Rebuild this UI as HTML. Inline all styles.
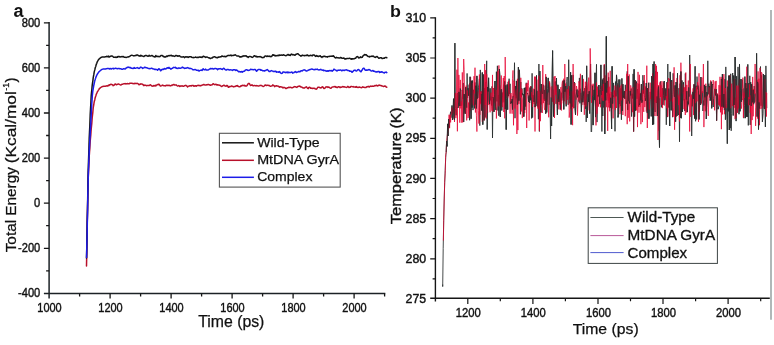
<!DOCTYPE html>
<html><head><meta charset="utf-8"><title>MD simulation: Total energy and temperature</title>
<style>
html,body{margin:0;padding:0;background:#fff;}
body{width:774px;height:345px;overflow:hidden;font-family:"Liberation Sans",sans-serif;}
svg{display:block;will-change:transform;font-family:"Liberation Sans",sans-serif;}
</style></head><body>
<svg width="774" height="345" viewBox="0 0 774 345">
<rect width="774" height="345" fill="#ffffff"/>
<g stroke="#1c2226" stroke-width="1.5" fill="none" stroke-linecap="butt">
<path d="M49.1 22 V298.6" />
<path d="M43.9 293.4 H385.3" />
</g>
<g stroke="#151515" stroke-width="1.3" fill="none">
<path d="M49.1 270.8h-3M49.1 248.3h-5.2M49.1 225.7h-3M49.1 203.2h-5.2M49.1 180.6h-3M49.1 158.1h-5.2M49.1 135.5h-3M49.1 113h-5.2M49.1 90.4h-3M49.1 67.9h-5.2M49.1 45.3h-3M49.1 22.8h-5.2M79.6 293.4v3M110.1 293.4v5.2M140.6 293.4v3M171.1 293.4v5.2M201.6 293.4v3M232.1 293.4v5.2M262.6 293.4v3M293.1 293.4v5.2M323.6 293.4v3M354.1 293.4v5.2M384.6 293.4v3" />
</g>
<g font-size="12.3" fill="#111" stroke="#111" stroke-width="0.4" text-anchor="end">
<text x="40.3" y="297.3" lengthAdjust="spacingAndGlyphs" textLength="22.3">-400</text>
<text x="40.3" y="252.2" lengthAdjust="spacingAndGlyphs" textLength="22.3">-200</text>
<text x="40.3" y="207.1" lengthAdjust="spacingAndGlyphs" textLength="6.2">0</text>
<text x="40.3" y="162" lengthAdjust="spacingAndGlyphs" textLength="18.6">200</text>
<text x="40.3" y="116.9" lengthAdjust="spacingAndGlyphs" textLength="18.6">400</text>
<text x="40.3" y="71.8" lengthAdjust="spacingAndGlyphs" textLength="18.6">600</text>
<text x="40.3" y="26.7" lengthAdjust="spacingAndGlyphs" textLength="18.6">800</text>
</g>
<g font-size="12.4" fill="#111" stroke="#111" stroke-width="0.4" text-anchor="middle">
<text x="49.5" y="311.7" lengthAdjust="spacingAndGlyphs" textLength="24.4">1000</text>
<text x="110.5" y="311.7" lengthAdjust="spacingAndGlyphs" textLength="24.4">1200</text>
<text x="171.5" y="311.7" lengthAdjust="spacingAndGlyphs" textLength="24.4">1400</text>
<text x="232.5" y="311.7" lengthAdjust="spacingAndGlyphs" textLength="24.4">1600</text>
<text x="293.5" y="311.7" lengthAdjust="spacingAndGlyphs" textLength="24.4">1800</text>
<text x="354.5" y="311.7" lengthAdjust="spacingAndGlyphs" textLength="24.4">2000</text>
</g>
<text x="198.2" y="327.0" font-size="16" fill="#111" stroke="#111" stroke-width="0.25" lengthAdjust="spacingAndGlyphs" textLength="66.2">Time (ps)</text>
<g font-size="15" fill="#111" stroke="#111" stroke-width="0.25">
<text transform="translate(16.2 252.3) rotate(-90)" lengthAdjust="spacingAndGlyphs" textLength="85.2">Total Energy</text>
<text transform="translate(16.2 163.2) rotate(-90)" lengthAdjust="spacingAndGlyphs" textLength="72">(Kcal/mol</text>
<text transform="translate(8.8 90.8) rotate(-90)" font-size="8.2" lengthAdjust="spacingAndGlyphs" textLength="7.9">-1</text>
<text transform="translate(16.2 82.6) rotate(-90)">)</text>
</g>
<text x="13.6" y="16.5" font-size="18" font-weight="bold" fill="#111">a</text>
<g fill="none" stroke-width="1.5" stroke-linejoin="round" stroke-linecap="round">
<path stroke="#b8102a" d="M86.5 266 L86.8 251.5 L87 237.7 L87.2 224.5 L87.5 211.5 L87.8 198.3 L88 186.8 L88.2 178.7 L88.5 172.5 L88.8 166.8 L89 161.6 L89.2 156.8 L89.5 152.4 L89.8 148.4 L90 144.7 L90.2 141.2 L90.5 138 L90.8 134.9 L91 131.9 L91.2 129 L91.5 126.1 L91.8 123.3 L92 120.5 L92.2 117.7 L92.5 115.1 L92.8 112.6 L93 110.3 L93.2 108.1 L93.5 106.2 L93.8 104.5 L94 103.1 L94.2 101.9 L94.5 100.8 L94.8 99.7 L95 98.7 L95.2 97.7 L95.5 96.8 L95.8 96 L96 95.2 L96.2 94.5 L96.5 93.8 L96.8 93.2 L97 92.7 L97.2 92.1 L97.5 91.6 L97.8 91.2 L98 90.8 L98.2 90.3 L98.5 90 L98.8 89.6 L99 89.2 L99.2 88.9 L99.5 88.6 L99.8 88.4 L100 88.1 L100.2 87.9 L100.5 87.7 L100.8 87.5 L101 87.3 L101.2 87.2 L101.5 87 L101.8 86.9 L102 86.7 L102.2 86.6 L102.5 86.5 L102.8 86.4 L103 86.4 L103.6 86.3 L104.2 86.2 L104.8 86.2 L105.4 86.2 L106 86.1 L106.6 85.8 L107.2 85.8 L107.8 86.1 L108.4 85.2 L109 85.5 L109.6 84.7 L110.2 84.8 L110.8 84.2 L111.4 84.5 L112 84.5 L112.6 84.9 L113.2 85.7 L113.8 85.4 L114.4 84.7 L115 84.2 L115.6 84 L116.2 84.7 L116.8 84.7 L117.4 84.3 L118 84.1 L118.6 83.9 L119.2 84.4 L119.8 84.6 L120.4 84.9 L121 85 L121.6 84.5 L122.2 84.2 L122.8 84.2 L123.4 83.9 L124 83.7 L124.6 83.7 L125.2 83.6 L125.8 84 L126.4 83.7 L127 83.7 L127.6 83.6 L128.2 83.7 L128.8 83.8 L129.4 83.7 L130 83.2 L130.6 83.2 L131.2 83.3 L131.8 83.2 L132.4 83.5 L133 83.4 L133.6 83.7 L134.2 83.8 L134.8 83.2 L135.4 83.5 L136 83.5 L136.6 83.4 L137.2 83.3 L137.8 83.6 L138.4 84 L139 84.7 L139.6 84.5 L140.2 84.3 L140.8 83.8 L141.4 84.1 L142 84.1 L142.6 84.3 L143.2 84.9 L143.8 85.6 L144.4 85.1 L145 85.3 L145.6 85.2 L146.2 85.5 L146.8 85.7 L147.4 85.4 L148 85.4 L148.6 85.6 L149.2 85.5 L149.8 85.2 L150.4 84.7 L151 85.3 L151.6 85.9 L152.2 86.2 L152.8 86.1 L153.4 85.5 L154 86 L154.6 85.8 L155.2 85.3 L155.8 85.9 L156.4 85.2 L157 84.9 L157.6 84.6 L158.2 84.7 L158.8 84.2 L159.4 84.6 L160 85.6 L160.6 86.1 L161.2 85.9 L161.8 85.6 L162.4 85.1 L163 85.3 L163.6 85.7 L164.2 85.7 L164.8 85.7 L165.4 85.9 L166 85.4 L166.6 85.3 L167.2 85.4 L167.8 85.3 L168.4 85.4 L169 85.3 L169.6 85.5 L170.2 85.9 L170.8 85.6 L171.4 85.3 L172 85.4 L172.6 84.9 L173.2 84.8 L173.8 84.4 L174.4 84.9 L175 85 L175.6 85 L176.2 84.9 L176.8 85.5 L177.4 86 L178 86 L178.6 85.6 L179.2 85.9 L179.8 86.5 L180.4 85.9 L181 86.2 L181.6 85.9 L182.2 85.8 L182.8 86.2 L183.4 86.2 L184 86 L184.6 85.7 L185.2 85.6 L185.8 85.3 L186.4 85.7 L187 86.3 L187.6 86.9 L188.2 86.3 L188.8 86.1 L189.4 85.8 L190 85.9 L190.6 85.7 L191.2 86.1 L191.8 85.5 L192.4 85.4 L193 85.4 L193.6 86 L194.2 86.3 L194.8 85.7 L195.4 85.7 L196 86.2 L196.6 86 L197.2 85.5 L197.8 85.6 L198.4 85.3 L199 85.4 L199.6 85.4 L200.2 85.9 L200.8 85.5 L201.4 85.6 L202 85.1 L202.6 84.9 L203.2 84.8 L203.8 84.4 L204.4 84.9 L205 85.1 L205.6 85 L206.2 85 L206.8 84.7 L207.4 84.8 L208 84.4 L208.6 84.5 L209.2 84.8 L209.8 85 L210.4 85.2 L211 85 L211.6 84.9 L212.2 84.7 L212.8 83.9 L213.4 83.7 L214 84.3 L214.6 84.7 L215.2 84.4 L215.8 84.3 L216.4 84.5 L217 85.1 L217.6 84.8 L218.2 84.9 L218.8 85 L219.4 85.2 L220 85.2 L220.6 85.9 L221.2 86.2 L221.8 86.5 L222.4 86 L223 85.8 L223.6 85.2 L224.2 85.3 L224.8 85.9 L225.4 86.1 L226 86.2 L226.6 85.4 L227.2 85.5 L227.8 86.1 L228.4 87.3 L229 87.1 L229.6 86.6 L230.2 86.5 L230.8 86.6 L231.4 86 L232 86 L232.6 86.5 L233.2 86.6 L233.8 86.9 L234.4 86.5 L235 86.6 L235.6 86.2 L236.2 85.8 L236.8 86 L237.4 85.5 L238 86.3 L238.6 86.4 L239.2 86.8 L239.8 86.8 L240.4 86.3 L241 85.7 L241.6 86 L242.2 85.4 L242.8 85.3 L243.4 85.4 L244 85.7 L244.6 85.3 L245.2 86.1 L245.8 85.9 L246.4 86 L247 85.7 L247.6 84.6 L248.2 83.6 L248.8 83.5 L249.4 83.6 L250 84.6 L250.6 85.5 L251.2 85 L251.8 85.2 L252.4 84.9 L253 85.7 L253.6 85.8 L254.2 85.6 L254.8 85.6 L255.4 85.7 L256 85.9 L256.6 85.6 L257.2 85.7 L257.8 85.9 L258.4 85.9 L259 85.9 L259.6 85.7 L260.2 85.3 L260.8 85.6 L261.4 85.4 L262 85.8 L262.6 86.2 L263.2 86.5 L263.8 86.2 L264.4 85.8 L265 85.1 L265.6 84.9 L266.2 85.6 L266.8 85.4 L267.4 85.3 L268 85.3 L268.6 85.5 L269.2 85.4 L269.8 85.9 L270.4 86.3 L271 86.1 L271.6 85.9 L272.2 85.8 L272.8 84.9 L273.4 85.3 L274 85.7 L274.6 86.7 L275.2 85.9 L275.8 86 L276.4 85.8 L277 86 L277.6 86 L278.2 86.4 L278.8 86.3 L279.4 87.2 L280 87.1 L280.6 86.7 L281.2 86.9 L281.8 87 L282.4 87.3 L283 87.9 L283.6 87.4 L284.2 87.4 L284.8 87.7 L285.4 88.1 L286 88.6 L286.6 88.3 L287.2 87.8 L287.8 87.8 L288.4 87.5 L289 87.2 L289.6 87.5 L290.2 87.4 L290.8 87.2 L291.4 87.8 L292 87.8 L292.6 87.7 L293.2 87.3 L293.8 87 L294.4 86.6 L295 86.8 L295.6 86.8 L296.2 87.2 L296.8 87.4 L297.4 86.7 L298 86.5 L298.6 86.3 L299.2 86.3 L299.8 86 L300.4 86.8 L301 86.9 L301.6 87 L302.2 87.3 L302.8 87.8 L303.4 88 L304 87.9 L304.6 88 L305.2 87.4 L305.8 87.1 L306.4 86.8 L307 87.6 L307.6 88.4 L308.2 88.7 L308.8 87.4 L309.4 87.3 L310 87.5 L310.6 88.2 L311.2 88.1 L311.8 88.3 L312.4 88.5 L313 88.3 L313.6 88.3 L314.2 88.4 L314.8 88.3 L315.4 88.8 L316 89.2 L316.6 89 L317.2 88.2 L317.8 87.3 L318.4 87.2 L319 87.3 L319.6 87.5 L320.2 87.9 L320.8 87.8 L321.4 87.7 L322 86.9 L322.6 86.8 L323.2 87.3 L323.8 88.5 L324.4 88.4 L325 88.1 L325.6 87.1 L326.2 87.1 L326.8 86.8 L327.4 86.9 L328 87.4 L328.6 87.1 L329.2 87.2 L329.8 87.8 L330.4 88.2 L331 88.2 L331.6 87.5 L332.2 87 L332.8 87.1 L333.4 86.9 L334 86.6 L334.6 86.7 L335.2 86.6 L335.8 87.2 L336.4 87.1 L337 87.6 L337.6 87.5 L338.2 86.8 L338.8 86.7 L339.4 86.9 L340 87.6 L340.6 87.1 L341.2 87.3 L341.8 87.1 L342.4 86.7 L343 86.5 L343.6 86.9 L344.2 86.8 L344.8 86.9 L345.4 87.1 L346 87.3 L346.6 87.4 L347.2 87.1 L347.8 86.4 L348.4 86.8 L349 87.5 L349.6 87.3 L350.2 87.3 L350.8 86.5 L351.4 86.5 L352 86.6 L352.6 86.8 L353.2 86.6 L353.8 87.1 L354.4 87.1 L355 87.1 L355.6 87.2 L356.2 86.5 L356.8 87.3 L357.4 87.2 L358 87.6 L358.6 87.3 L359.2 87 L359.8 87.2 L360.4 87.4 L361 87.5 L361.6 87.7 L362.2 87.3 L362.8 86.7 L363.4 87.3 L364 87.3 L364.6 87.4 L365.2 87.5 L365.8 87.6 L366.4 87.1 L367 86.7 L367.6 86.6 L368.2 86.8 L368.8 86.3 L369.4 87 L370 86.5 L370.6 86.1 L371.2 86.4 L371.8 86.2 L372.4 86.1 L373 86.3 L373.6 86.3 L374.2 86 L374.8 85.6 L375.4 85.7 L376 85.5 L376.6 85.3 L377.2 85.8 L377.8 85.9 L378.4 85.4 L379 85.1 L379.6 85.2 L380.2 85.5 L380.8 85.5 L381.4 85.7 L382 86.1 L382.6 86.1 L383.2 86.4 L383.8 86.4 L384.4 86 L385 86.3 L385.6 86.1 L386.2 87.1 L386.8 87.2" />
<path stroke="#141414" d="M86.5 258 L86.8 247 L87 235.1 L87.2 222.6 L87.5 208.5 L87.8 193 L88 180 L88.2 170.1 L88.5 161.1 L88.8 152.9 L89 145.4 L89.2 138.5 L89.5 132.2 L89.8 126.2 L90 120.4 L90.2 114.8 L90.5 109.4 L90.8 104.4 L91 99.8 L91.2 95.9 L91.5 92.6 L91.8 90 L92 87.6 L92.2 85.3 L92.5 83.2 L92.8 81.3 L93 79.5 L93.2 77.8 L93.5 76.2 L93.8 74.7 L94 73.3 L94.2 72.1 L94.5 70.9 L94.8 69.9 L95 68.9 L95.2 67.9 L95.5 67.1 L95.8 66.2 L96 65.4 L96.2 64.6 L96.5 63.9 L96.8 63.2 L97 62.6 L97.2 62 L97.5 61.4 L97.8 60.9 L98 60.5 L98.2 60.1 L98.5 59.7 L98.8 59.4 L99 59.2 L99.2 58.9 L99.5 58.7 L99.8 58.4 L100 58.2 L100.2 58 L100.5 57.8 L100.8 57.6 L101 57.5 L101.2 57.4 L101.5 57.2 L101.8 57.2 L102 57.1 L102.2 57.1 L102.5 57 L102.8 57 L103 56.9 L103.6 56.9 L104.2 56.9 L104.8 56.9 L105.4 56.8 L106 56.8 L106.6 56.3 L107.2 56.7 L107.8 56.5 L108.4 56.1 L109 57.2 L109.6 56.9 L110.2 56.2 L110.8 56.2 L111.4 56 L112 56.1 L112.6 56.2 L113.2 56.8 L113.8 57.3 L114.4 57.2 L115 57.4 L115.6 57 L116.2 57.5 L116.8 57 L117.4 57.2 L118 56.5 L118.6 56.4 L119.2 56.9 L119.8 56.5 L120.4 56.9 L121 56.8 L121.6 56.6 L122.2 56.7 L122.8 56.6 L123.4 56.6 L124 57.1 L124.6 57.3 L125.2 57.2 L125.8 57.4 L126.4 57.5 L127 57.1 L127.6 56.9 L128.2 57 L128.8 56.7 L129.4 56.5 L130 56.2 L130.6 55.7 L131.2 55.4 L131.8 55.2 L132.4 55.4 L133 55.6 L133.6 55.9 L134.2 55.7 L134.8 55.8 L135.4 55.4 L136 55.6 L136.6 55 L137.2 55.1 L137.8 55.1 L138.4 55.7 L139 55.7 L139.6 56 L140.2 56.2 L140.8 55.2 L141.4 55.8 L142 56 L142.6 56 L143.2 56.4 L143.8 56.6 L144.4 56 L145 55.8 L145.6 55.4 L146.2 55.5 L146.8 55.7 L147.4 56 L148 56.2 L148.6 56 L149.2 55.3 L149.8 56.1 L150.4 56.1 L151 56 L151.6 55.6 L152.2 55.5 L152.8 56 L153.4 56.6 L154 56.6 L154.6 57 L155.2 56.9 L155.8 55.5 L156.4 56.4 L157 56.4 L157.6 56.3 L158.2 56.7 L158.8 56.4 L159.4 56.7 L160 56.6 L160.6 55.8 L161.2 55.4 L161.8 55.5 L162.4 55.6 L163 56.4 L163.6 56.3 L164.2 57.1 L164.8 56.8 L165.4 57.1 L166 56.6 L166.6 56 L167.2 56.5 L167.8 55.9 L168.4 55.6 L169 56 L169.6 55.5 L170.2 55.4 L170.8 55.7 L171.4 55.3 L172 55.9 L172.6 56 L173.2 55.8 L173.8 56.1 L174.4 56.4 L175 56.1 L175.6 55.6 L176.2 55.5 L176.8 55.7 L177.4 55.8 L178 56.3 L178.6 55.9 L179.2 55.7 L179.8 56.1 L180.4 56.6 L181 57 L181.6 57.1 L182.2 57 L182.8 56.9 L183.4 56.7 L184 57.1 L184.6 57.6 L185.2 56.9 L185.8 56.8 L186.4 56.9 L187 56.8 L187.6 56.9 L188.2 57.5 L188.8 57.1 L189.4 56.7 L190 56.8 L190.6 56.8 L191.2 56.8 L191.8 57.3 L192.4 57.6 L193 57.3 L193.6 57.7 L194.2 57.6 L194.8 57.4 L195.4 57 L196 57.3 L196.6 57.4 L197.2 57.5 L197.8 57.3 L198.4 57.6 L199 56.9 L199.6 56.9 L200.2 57.3 L200.8 57 L201.4 57.2 L202 57.5 L202.6 56.8 L203.2 56.3 L203.8 56.3 L204.4 56.8 L205 56.7 L205.6 57.4 L206.2 57.2 L206.8 56.9 L207.4 57.1 L208 57.5 L208.6 57.9 L209.2 57.7 L209.8 58.3 L210.4 58.6 L211 58.1 L211.6 57.9 L212.2 58 L212.8 57.4 L213.4 56.9 L214 56.9 L214.6 56.7 L215.2 57 L215.8 57.5 L216.4 57.5 L217 57.7 L217.6 57.7 L218.2 57 L218.8 57.2 L219.4 57.1 L220 57 L220.6 56.7 L221.2 56.7 L221.8 56 L222.4 56.1 L223 56.4 L223.6 56.4 L224.2 56.4 L224.8 56.3 L225.4 56.8 L226 56.4 L226.6 56.4 L227.2 55.7 L227.8 55.6 L228.4 55.3 L229 55.6 L229.6 55.6 L230.2 55.5 L230.8 55.1 L231.4 55.8 L232 55.4 L232.6 55.5 L233.2 55.5 L233.8 55.2 L234.4 55.2 L235 54.8 L235.6 55 L236.2 55.5 L236.8 55.9 L237.4 56 L238 56 L238.6 56 L239.2 56.4 L239.8 57 L240.4 56.7 L241 57.1 L241.6 56.7 L242.2 56.3 L242.8 56.4 L243.4 55.9 L244 55.8 L244.6 55.9 L245.2 55.9 L245.8 55.8 L246.4 56 L247 56.7 L247.6 56.7 L248.2 57.4 L248.8 56.7 L249.4 56.6 L250 56.6 L250.6 56.6 L251.2 56.8 L251.8 57.2 L252.4 57.4 L253 57 L253.6 56.4 L254.2 55.7 L254.8 55.8 L255.4 56.2 L256 56.8 L256.6 56.3 L257.2 57 L257.8 56.7 L258.4 56.8 L259 56.8 L259.6 56.7 L260.2 56.5 L260.8 57 L261.4 57.1 L262 57.6 L262.6 57.7 L263.2 57.4 L263.8 57.5 L264.4 56.7 L265 56.2 L265.6 55.9 L266.2 56.2 L266.8 56.6 L267.4 56 L268 56.3 L268.6 56.3 L269.2 56.5 L269.8 56.1 L270.4 56.6 L271 56.8 L271.6 56.2 L272.2 55.8 L272.8 54.7 L273.4 55.2 L274 55.1 L274.6 55.7 L275.2 55.4 L275.8 56 L276.4 55.6 L277 55.8 L277.6 55.4 L278.2 55.3 L278.8 55.7 L279.4 55 L280 55.2 L280.6 55.3 L281.2 54.9 L281.8 55.2 L282.4 55.3 L283 54.9 L283.6 54.7 L284.2 55.3 L284.8 55.3 L285.4 55.6 L286 55.8 L286.6 55.2 L287.2 55.1 L287.8 54.6 L288.4 54.5 L289 55.2 L289.6 55 L290.2 55.5 L290.8 54.6 L291.4 54.1 L292 54.3 L292.6 54.8 L293.2 54.9 L293.8 54.6 L294.4 55 L295 55.3 L295.6 54.7 L296.2 54.2 L296.8 54 L297.4 53.7 L298 53.8 L298.6 54.5 L299.2 54.9 L299.8 55.4 L300.4 55.7 L301 56.2 L301.6 55.9 L302.2 55.1 L302.8 55.4 L303.4 55.5 L304 55.5 L304.6 55.7 L305.2 55.5 L305.8 55.4 L306.4 55.6 L307 55 L307.6 54.9 L308.2 55.9 L308.8 55.7 L309.4 55.8 L310 55.4 L310.6 55.3 L311.2 55.4 L311.8 55.7 L312.4 55.8 L313 54.8 L313.6 55.1 L314.2 54.9 L314.8 55.6 L315.4 56.4 L316 56.1 L316.6 55.5 L317.2 56.3 L317.8 56.1 L318.4 56.6 L319 56.2 L319.6 56 L320.2 55.7 L320.8 56.7 L321.4 56.8 L322 57.4 L322.6 56.6 L323.2 56.4 L323.8 56.7 L324.4 56.2 L325 56.2 L325.6 56.8 L326.2 56.7 L326.8 56.7 L327.4 57.1 L328 56.4 L328.6 56.6 L329.2 56.6 L329.8 56.2 L330.4 56.2 L331 56.3 L331.6 56.2 L332.2 56 L332.8 56.3 L333.4 55.8 L334 56.5 L334.6 57.2 L335.2 57.8 L335.8 57.9 L336.4 57.3 L337 57.7 L337.6 57.7 L338.2 57.8 L338.8 57.9 L339.4 58 L340 58 L340.6 57.4 L341.2 57.7 L341.8 58.2 L342.4 58.3 L343 58.3 L343.6 58 L344.2 58.2 L344.8 58.9 L345.4 58.8 L346 59 L346.6 58.5 L347.2 58.6 L347.8 58.6 L348.4 58.6 L349 58.4 L349.6 58.2 L350.2 58.6 L350.8 59 L351.4 59.2 L352 58.7 L352.6 59.1 L353.2 58.7 L353.8 58.9 L354.4 58.7 L355 58.3 L355.6 58.3 L356.2 57.3 L356.8 56.7 L357.4 56.6 L358 56.9 L358.6 57.9 L359.2 57.8 L359.8 57.7 L360.4 56.9 L361 57.3 L361.6 57.4 L362.2 57.3 L362.8 56.1 L363.4 55.7 L364 55.1 L364.6 54.5 L365.2 54.7 L365.8 55 L366.4 54.8 L367 55.7 L367.6 56.2 L368.2 56.5 L368.8 56.4 L369.4 56.9 L370 56.4 L370.6 56.4 L371.2 56.5 L371.8 56.1 L372.4 56.4 L373 56 L373.6 56.3 L374.2 56.8 L374.8 57.2 L375.4 57.4 L376 56.9 L376.6 56.6 L377.2 56.6 L377.8 57.2 L378.4 57.8 L379 58.3 L379.6 58.1 L380.2 57.7 L380.8 57.7 L381.4 57.8 L382 58.5 L382.6 58.5 L383.2 58.3 L383.8 58.1 L384.4 58.3 L385 57.6 L385.6 57.4 L386.2 57.5 L386.8 57.7" />
<path stroke="#1c1ce8" d="M86.6 257.5 L86.8 246.6 L87.1 235.2 L87.3 223.4 L87.6 210.4 L87.8 196.2 L88.1 183.8 L88.3 175.2 L88.6 167.9 L88.8 161.3 L89.1 155.4 L89.3 150 L89.6 145 L89.8 140.3 L90.1 135.7 L90.3 131.3 L90.6 126.8 L90.8 122.2 L91.1 117.4 L91.3 112.6 L91.6 108 L91.8 103.5 L92.1 99.5 L92.3 96 L92.6 93.2 L92.8 91.2 L93.1 89.5 L93.3 88 L93.6 86.5 L93.8 85.2 L94.1 84 L94.3 82.8 L94.6 81.7 L94.8 80.7 L95.1 79.8 L95.3 79 L95.6 78.2 L95.8 77.5 L96.1 76.9 L96.3 76.3 L96.6 75.7 L96.8 75.2 L97.1 74.7 L97.3 74.2 L97.6 73.8 L97.8 73.4 L98.1 73 L98.3 72.7 L98.6 72.3 L98.8 72 L99.1 71.7 L99.3 71.5 L99.6 71.2 L99.8 71 L100.1 70.8 L100.3 70.6 L100.6 70.4 L100.8 70.2 L101.1 70 L101.3 69.8 L101.6 69.6 L101.8 69.5 L102.1 69.4 L102.3 69.2 L102.6 69.2 L102.8 69.1 L103 69.1 L103.6 69.1 L104.2 69.1 L104.8 69.1 L105.4 69.1 L106 68.8 L106.6 68.7 L107.2 68.6 L107.8 68.6 L108.4 68.6 L109 68.7 L109.6 69 L110.2 68.4 L110.8 68.8 L111.4 69.1 L112 68.4 L112.6 68.6 L113.2 68.3 L113.8 68.9 L114.4 68.6 L115 68.3 L115.6 68.3 L116.2 68.5 L116.8 68.6 L117.4 68.8 L118 68.5 L118.6 68.6 L119.2 68.5 L119.8 68.8 L120.4 68.7 L121 68.8 L121.6 69.2 L122.2 69.3 L122.8 69.2 L123.4 68.8 L124 68.6 L124.6 69 L125.2 69 L125.8 68.4 L126.4 67.9 L127 67.5 L127.6 67.2 L128.2 67.5 L128.8 67.1 L129.4 67.5 L130 67.7 L130.6 67.5 L131.2 68.2 L131.8 68.3 L132.4 68.3 L133 68.6 L133.6 68.4 L134.2 67.5 L134.8 68.2 L135.4 68.3 L136 68.1 L136.6 67.9 L137.2 67.5 L137.8 67.9 L138.4 68.3 L139 68.4 L139.6 68.3 L140.2 67.4 L140.8 67.1 L141.4 67.4 L142 67.7 L142.6 68.4 L143.2 68.1 L143.8 67.8 L144.4 67.3 L145 67.3 L145.6 67.4 L146.2 67.8 L146.8 67.7 L147.4 68.1 L148 68.3 L148.6 68.6 L149.2 68.4 L149.8 68.8 L150.4 68.6 L151 68.3 L151.6 68.2 L152.2 68.5 L152.8 68.8 L153.4 68.9 L154 69 L154.6 69.4 L155.2 69.3 L155.8 69.5 L156.4 69.4 L157 69.4 L157.6 70.2 L158.2 69.4 L158.8 68.7 L159.4 69.1 L160 69.6 L160.6 70.8 L161.2 70.4 L161.8 69.5 L162.4 69.6 L163 69.1 L163.6 69.5 L164.2 68.7 L164.8 68.5 L165.4 69.1 L166 68.9 L166.6 68.4 L167.2 67.7 L167.8 68.1 L168.4 68.2 L169 67.3 L169.6 68.3 L170.2 68.3 L170.8 69.2 L171.4 68.8 L172 68.4 L172.6 68.2 L173.2 67.7 L173.8 67.3 L174.4 67.6 L175 67.4 L175.6 67.3 L176.2 68.4 L176.8 68.2 L177.4 68.4 L178 68.4 L178.6 67.9 L179.2 68 L179.8 68.2 L180.4 68.2 L181 68.1 L181.6 67.9 L182.2 67.1 L182.8 67.3 L183.4 67.8 L184 68 L184.6 68.5 L185.2 68.1 L185.8 68.3 L186.4 68 L187 67.9 L187.6 67.6 L188.2 68 L188.8 68 L189.4 68.6 L190 68.6 L190.6 68.3 L191.2 68.6 L191.8 68.9 L192.4 69.1 L193 69.9 L193.6 69.7 L194.2 69.7 L194.8 69.6 L195.4 69.5 L196 70 L196.6 70.2 L197.2 70.4 L197.8 70.3 L198.4 70.3 L199 71.1 L199.6 70.7 L200.2 70.4 L200.8 70.2 L201.4 70.1 L202 70.5 L202.6 69.5 L203.2 68.8 L203.8 69.5 L204.4 69.7 L205 69.9 L205.6 69.1 L206.2 69.9 L206.8 69.9 L207.4 70 L208 69.9 L208.6 69.8 L209.2 69.2 L209.8 69.1 L210.4 68.5 L211 68.5 L211.6 68.8 L212.2 68.7 L212.8 68.5 L213.4 69.1 L214 69 L214.6 68.6 L215.2 68.6 L215.8 68.6 L216.4 68.7 L217 69 L217.6 69.7 L218.2 68.8 L218.8 68.9 L219.4 68.8 L220 68.8 L220.6 68.6 L221.2 69 L221.8 69.3 L222.4 69.4 L223 68.8 L223.6 68.2 L224.2 68.6 L224.8 69.2 L225.4 69.8 L226 69.9 L226.6 69.9 L227.2 69.4 L227.8 69.6 L228.4 69.5 L229 70 L229.6 70 L230.2 69.7 L230.8 69.9 L231.4 69.9 L232 70 L232.6 70.4 L233.2 69.8 L233.8 69.7 L234.4 69.7 L235 69.9 L235.6 70.4 L236.2 70 L236.8 70.1 L237.4 70.7 L238 71.1 L238.6 71.8 L239.2 71.7 L239.8 71.5 L240.4 72 L241 71.7 L241.6 71.6 L242.2 72.2 L242.8 71.5 L243.4 71.5 L244 71.3 L244.6 71.1 L245.2 70.2 L245.8 70.1 L246.4 69.7 L247 69.7 L247.6 70.3 L248.2 70.4 L248.8 70.3 L249.4 70.2 L250 69.8 L250.6 69.2 L251.2 69.5 L251.8 69.4 L252.4 69.6 L253 69.7 L253.6 69.8 L254.2 69.5 L254.8 69.6 L255.4 69.6 L256 70.5 L256.6 71.3 L257.2 70.5 L257.8 69.9 L258.4 69.5 L259 69.4 L259.6 69.6 L260.2 69.6 L260.8 70.3 L261.4 70 L262 70.2 L262.6 70.8 L263.2 70.7 L263.8 70.8 L264.4 71.1 L265 70.6 L265.6 70.6 L266.2 70.1 L266.8 69.8 L267.4 69.6 L268 70.3 L268.6 70.9 L269.2 71.5 L269.8 71.6 L270.4 71.1 L271 70.8 L271.6 70.6 L272.2 70.9 L272.8 71.1 L273.4 71.6 L274 71.6 L274.6 71.3 L275.2 71.5 L275.8 71.2 L276.4 72.2 L277 72.1 L277.6 72.1 L278.2 72 L278.8 72.2 L279.4 71.6 L280 72 L280.6 73 L281.2 73.4 L281.8 73.3 L282.4 73 L283 72 L283.6 72.1 L284.2 72.1 L284.8 72.3 L285.4 72.7 L286 72.3 L286.6 72.6 L287.2 72 L287.8 72.7 L288.4 72.2 L289 72.7 L289.6 72.4 L290.2 72.4 L290.8 72.4 L291.4 72.2 L292 72 L292.6 73.2 L293.2 72.9 L293.8 72.7 L294.4 72.1 L295 72 L295.6 71.5 L296.2 72.4 L296.8 72.4 L297.4 72.1 L298 71.8 L298.6 71.5 L299.2 71.5 L299.8 71.8 L300.4 71.3 L301 70.8 L301.6 70.7 L302.2 71 L302.8 70.4 L303.4 70.1 L304 70.1 L304.6 69.8 L305.2 70.2 L305.8 70.8 L306.4 71 L307 70.9 L307.6 70.6 L308.2 70.2 L308.8 70 L309.4 69.8 L310 69.5 L310.6 69.4 L311.2 69.1 L311.8 68.9 L312.4 69.3 L313 69.3 L313.6 69.6 L314.2 69.8 L314.8 69.4 L315.4 69.3 L316 69.4 L316.6 69.3 L317.2 69.1 L317.8 69.6 L318.4 69.8 L319 69.9 L319.6 69.8 L320.2 69.8 L320.8 69.2 L321.4 69.8 L322 70.1 L322.6 70.2 L323.2 69.9 L323.8 70.7 L324.4 70.4 L325 70.5 L325.6 70.8 L326.2 71.2 L326.8 71 L327.4 70.8 L328 71.3 L328.6 70.8 L329.2 70.6 L329.8 70.7 L330.4 70.6 L331 70.8 L331.6 70.5 L332.2 71.1 L332.8 70.6 L333.4 70.2 L334 69.1 L334.6 69.5 L335.2 69.9 L335.8 70.2 L336.4 70.7 L337 71 L337.6 70.4 L338.2 70.1 L338.8 70.3 L339.4 70.2 L340 70.1 L340.6 69.9 L341.2 70.4 L341.8 70.8 L342.4 70.3 L343 70.1 L343.6 70.3 L344.2 70.6 L344.8 70.2 L345.4 69.9 L346 69.9 L346.6 69.8 L347.2 70.2 L347.8 70.6 L348.4 70.6 L349 70.7 L349.6 71.2 L350.2 71.1 L350.8 71.3 L351.4 71.3 L352 72.3 L352.6 71.9 L353.2 71.1 L353.8 70.5 L354.4 70.3 L355 70.1 L355.6 70.7 L356.2 70.9 L356.8 70.9 L357.4 70.1 L358 69.7 L358.6 69.6 L359.2 70 L359.8 70.8 L360.4 71.4 L361 71.8 L361.6 70.7 L362.2 70 L362.8 68.7 L363.4 68.3 L364 68.2 L364.6 69.1 L365.2 70.1 L365.8 70.3 L366.4 70 L367 70.2 L367.6 70 L368.2 69.9 L368.8 69.5 L369.4 69.7 L370 70 L370.6 70.6 L371.2 71 L371.8 71 L372.4 70.7 L373 70.4 L373.6 71.2 L374.2 71.2 L374.8 71.3 L375.4 71.8 L376 71.9 L376.6 71.8 L377.2 72 L377.8 71.5 L378.4 71.6 L379 71.5 L379.6 72.5 L380.2 71.9 L380.8 72.3 L381.4 71.8 L382 71.8 L382.6 72.2 L383.2 72.6 L383.8 72.8 L384.4 72.9 L385 72.3 L385.6 72.3 L386.2 72.1 L386.8 72.6" />
</g>
<rect x="219.4" y="133.3" width="120.8" height="53.8" fill="#fff" stroke="#555" stroke-width="1.1"/>
<g stroke-width="1.5" fill="none">
<path stroke="#141414" d="M222 142.8H253.9"/>
<path stroke="#b8102a" d="M222 160.3H253.9"/>
<path stroke="#1c1ce8" d="M222 177.3H253.9"/>
</g>
<g font-size="13.7" fill="#111" stroke="#111" stroke-width="0.25">
<text x="257.2" y="147.2" lengthAdjust="spacingAndGlyphs" textLength="62.4">Wild-Type</text>
<text x="257.2" y="163.9" lengthAdjust="spacingAndGlyphs" textLength="82">MtDNA GyrA</text>
<text x="257.2" y="181.1" lengthAdjust="spacingAndGlyphs" textLength="55.2">Complex</text>
</g>
<g stroke="#151515" stroke-width="1.4" fill="none">
<path d="M435.4 17.2 V301.6" />
<path d="M430.2 298.3 H769.8" />
</g>
<g stroke="#151515" stroke-width="1.2" fill="none">
<path d="M435.4 278.8h-2.8M435.4 258.8h-5.2M435.4 238.7h-2.8M435.4 218.6h-5.2M435.4 198.5h-2.8M435.4 178.4h-5.2M435.4 158.4h-2.8M435.4 138.3h-5.2M435.4 118.2h-2.8M435.4 98.2h-5.2M435.4 78.1h-2.8M435.4 58h-5.2M435.4 37.9h-2.8M435.4 17.9h-5.2M467.8 298.3v5.6M500.3 298.3v2.9M532.9 298.3v5.6M565.4 298.3v2.9M598 298.3v5.6M630.5 298.3v2.9M663 298.3v5.6M695.6 298.3v2.9M728.1 298.3v5.6M760.7 298.3v2.9" />
</g>
<g font-size="12.2" fill="#111" stroke="#111" stroke-width="0.4" text-anchor="end">
<text x="426.2" y="303" lengthAdjust="spacingAndGlyphs" textLength="20.6">275</text>
<text x="426.2" y="262.9" lengthAdjust="spacingAndGlyphs" textLength="20.6">280</text>
<text x="426.2" y="222.7" lengthAdjust="spacingAndGlyphs" textLength="20.6">285</text>
<text x="426.2" y="182.5" lengthAdjust="spacingAndGlyphs" textLength="20.6">290</text>
<text x="426.2" y="142.4" lengthAdjust="spacingAndGlyphs" textLength="20.6">295</text>
<text x="426.2" y="102.2" lengthAdjust="spacingAndGlyphs" textLength="20.6">300</text>
<text x="426.2" y="62.1" lengthAdjust="spacingAndGlyphs" textLength="20.6">305</text>
<text x="426.2" y="22" lengthAdjust="spacingAndGlyphs" textLength="20.6">310</text>
</g>
<g font-size="12.2" fill="#111" stroke="#111" stroke-width="0.4" text-anchor="middle">
<text x="468.2" y="316.6" lengthAdjust="spacingAndGlyphs" textLength="25">1200</text>
<text x="533.3" y="316.6" lengthAdjust="spacingAndGlyphs" textLength="25">1400</text>
<text x="598.4" y="316.6" lengthAdjust="spacingAndGlyphs" textLength="25">1600</text>
<text x="663.4" y="316.6" lengthAdjust="spacingAndGlyphs" textLength="25">1800</text>
<text x="728.5" y="316.6" lengthAdjust="spacingAndGlyphs" textLength="25">2000</text>
</g>
<text x="572.7" y="333.5" font-size="15.2" fill="#111" stroke="#111" stroke-width="0.25" lengthAdjust="spacingAndGlyphs" textLength="66">Time (ps)</text>
<g font-size="14.5" fill="#111" stroke="#111" stroke-width="0.4">
<text transform="translate(401.1 224.2) rotate(-90)" lengthAdjust="spacingAndGlyphs" textLength="92.2">Temperature</text>
<text transform="translate(401.1 128.4) rotate(-90)" lengthAdjust="spacingAndGlyphs" textLength="21">(K)</text>
</g>
<text x="389.9" y="16.7" font-size="15.6" font-weight="bold" fill="#111" lengthAdjust="spacingAndGlyphs" textLength="10.9">b</text>
<g fill="none" stroke-width="0.85" stroke-linejoin="miter" stroke-miterlimit="2">
<path stroke="#262b2b" d="M442.7 284.5 L442.7 286.6 L443.2 248.4 L443.7 220.7 L444.2 200 L444.7 182.7 L445.2 170.5 L445.7 157.6 L446.2 152.1 L446.6 141.1 L447.1 146.4 L447.6 123.9 L448.1 136 L448.6 119 L449.1 127.5 L449.6 120 L450.1 115.1 L450.6 111.7 L451 117.7 L451.5 111.5 L452 105.5 L452.5 120 L453 116.9 L453.5 98.7 L454 117.5 L454.5 120.1 L454.9 43.1 L455.4 108.4 L455.9 115.2 L456.4 115.1 L456.9 94.8 L457.4 93 L457.9 108 L458.4 106.6 L458.9 91.9 L459.3 94.3 L459.8 106 L460.3 88.6 L460.8 90.4 L461.3 105.5 L461.8 105.6 L462.3 90 L462.8 98.8 L463.2 83 L463.7 122 L464.2 94.1 L464.7 110.1 L465.2 113.7 L465.7 87.3 L466.2 95.1 L466.7 107.7 L467.1 73.4 L467.6 97.8 L468.1 88.1 L468.6 95.8 L469.1 84.6 L469.6 120.2 L470.1 76.8 L470.6 98.6 L471.1 118.7 L471.5 80.8 L472 107.6 L472.5 80.6 L473 110.1 L473.5 89.8 L474 95.2 L474.5 108.4 L475 82.4 L475.4 104.6 L475.9 85.7 L476.4 108.4 L476.9 75.9 L477.4 98.5 L477.9 97.5 L478.4 87.3 L478.9 84.1 L479.4 78.7 L479.8 125.6 L480.3 69.9 L480.8 103.2 L481.3 93.9 L481.8 110.6 L482.3 72.5 L482.8 124.6 L483.3 74.5 L483.7 89.9 L484.2 120.3 L484.7 88.1 L485.2 117.4 L485.7 82.3 L486.2 83.2 L486.7 60.8 L487.2 129.5 L487.6 87 L488.1 91.5 L488.6 77.8 L489.1 99.8 L489.6 104.1 L490.1 88.3 L490.6 100.3 L491.1 96.7 L491.6 105.5 L492 86.4 L492.5 138 L493 97 L493.5 98.7 L494 111.8 L494.5 94.7 L495 81 L495.5 106.2 L495.9 110 L496.4 71.7 L496.9 101.4 L497.4 65.8 L497.9 110.5 L498.4 95 L498.9 115.7 L499.4 69 L499.9 76 L500.3 117 L500.8 94.2 L501.3 89.3 L501.8 110.5 L502.3 92.5 L502.8 102.5 L503.3 90.4 L503.8 84.6 L504.2 101.6 L504.7 81.3 L505.2 109.1 L505.7 85.4 L506.2 129.6 L506.7 98.5 L507.2 84.5 L507.7 109.7 L508.1 81.8 L508.6 96.2 L509.1 78.7 L509.6 94.2 L510.1 83.8 L510.6 103.8 L511.1 101.5 L511.6 103.1 L512.1 99.1 L512.5 109.5 L513 96.6 L513.5 97.1 L514 92.4 L514.5 62.7 L515 118.2 L515.5 86 L516 98.2 L516.4 80.9 L516.9 96.2 L517.4 104.6 L517.9 101.4 L518.4 67.1 L518.9 100.7 L519.4 69.8 L519.9 81.4 L520.4 114.3 L520.8 82 L521.3 97.2 L521.8 88.3 L522.3 93 L522.8 95.1 L523.3 94.4 L523.8 116.7 L524.3 88 L524.7 110 L525.2 87.5 L525.7 106.6 L526.2 82.8 L526.7 92.1 L527.2 94.1 L527.7 93 L528.2 96.5 L528.6 101.8 L529.1 95.5 L529.6 103 L530.1 87.6 L530.6 100.2 L531.1 86.5 L531.6 118.4 L532.1 73.3 L532.6 117.6 L533 95.1 L533.5 99.3 L534 102 L534.5 89.4 L535 107.1 L535.5 104.7 L536 103 L536.5 75.5 L536.9 105.9 L537.4 106.6 L537.9 90.8 L538.4 119.2 L538.9 64 L539.4 131.5 L539.9 71.1 L540.4 101.5 L540.9 112.5 L541.3 84 L541.8 89.1 L542.3 93.5 L542.8 94 L543.3 84.7 L543.8 99.7 L544.3 89.9 L544.8 100.9 L545.2 85.5 L545.7 113.8 L546.2 76.9 L546.7 112.4 L547.2 102.3 L547.7 88.3 L548.2 77.9 L548.7 92.7 L549.1 104.7 L549.6 82.7 L550.1 108.8 L550.6 139 L551.1 97.3 L551.6 126 L552.1 78.7 L552.6 50.6 L553.1 94.2 L553.5 116.5 L554 105.9 L554.5 103.7 L555 81.5 L555.5 81.6 L556 103.8 L556.5 78 L557 108.7 L557.4 115 L557.9 84.8 L558.4 96 L558.9 101.8 L559.4 89.3 L559.9 92 L560.4 109.5 L560.9 108.8 L561.4 92.7 L561.8 100.6 L562.3 98.5 L562.8 82 L563.3 80.6 L563.8 109.4 L564.3 80.3 L564.8 91.7 L565.3 89 L565.7 86 L566.2 106.3 L566.7 81.3 L567.2 77 L567.7 95.2 L568.2 104.8 L568.7 59.7 L569.2 85.7 L569.7 96.5 L570.1 103.4 L570.6 72.3 L571.1 124.5 L571.6 75.4 L572.1 106.7 L572.6 106.5 L573.1 74.9 L573.6 102.2 L574 108.4 L574.5 82.1 L575 108.8 L575.5 114.8 L576 95.9 L576.5 92.8 L577 89.5 L577.5 97.3 L577.9 95 L578.4 90.6 L578.9 101.7 L579.4 77.9 L579.9 103.3 L580.4 88.7 L580.9 92.8 L581.4 111.7 L581.9 97.7 L582.3 75.3 L582.8 102.2 L583.3 96.8 L583.8 91.3 L584.3 104.9 L584.8 88.1 L585.3 108.9 L585.8 86.1 L586.2 121.9 L586.7 65.8 L587.2 118 L587.7 106 L588.2 94.2 L588.7 102 L589.2 91.2 L589.7 113.6 L590.2 82.2 L590.6 64 L591.1 131.5 L591.6 132 L592.1 111.7 L592.6 85.8 L593.1 125.1 L593.6 96.8 L594.1 89.8 L594.5 99.8 L595 72.8 L595.5 117.1 L596 83.4 L596.5 64.3 L597 122.1 L597.5 95 L598 97.2 L598.4 96.2 L598.9 85 L599.4 100 L599.9 104.1 L600.4 89.4 L600.9 64.9 L601.4 95.1 L601.9 131.5 L602.4 79.5 L602.8 116 L603.3 78.1 L603.8 107.5 L604.3 65.1 L604.8 134 L605.3 82.8 L605.8 100.4 L606.3 36.3 L606.7 92.5 L607.2 81 L607.7 96.7 L608.2 100.5 L608.7 77.2 L609.2 103.1 L609.7 93.7 L610.2 107.8 L610.7 97.8 L611.1 103.7 L611.6 129 L612.1 66.3 L612.6 103.6 L613.1 95.2 L613.6 82.9 L614.1 97 L614.6 90.8 L615 131.3 L615.5 81.6 L616 96.4 L616.5 74.9 L617 82.6 L617.5 84.2 L618 117.4 L618.5 114.4 L618.9 79.5 L619.4 104.1 L619.9 79.5 L620.4 106.1 L620.9 88.3 L621.4 119.8 L621.9 78.4 L622.4 110.8 L622.9 84.2 L623.3 96.1 L623.8 97.7 L624.3 91.2 L624.8 98.8 L625.3 84.8 L625.8 95.2 L626.3 103.8 L626.8 100 L627.2 71.3 L627.7 109.9 L628.2 76.2 L628.7 100.9 L629.2 101.2 L629.7 103.5 L630.2 90.9 L630.7 95.4 L631.2 88.5 L631.6 116.6 L632.1 93.7 L632.6 98.6 L633.1 73.9 L633.6 131.5 L634.1 69.3 L634.6 116.6 L635.1 80.2 L635.5 110.6 L636 84.1 L636.5 81.6 L637 98.8 L637.5 89.1 L638 94.7 L638.5 106.7 L639 83.7 L639.4 105.1 L639.9 102.3 L640.4 93.6 L640.9 100.4 L641.4 84.1 L641.9 102.7 L642.4 99.8 L642.9 75.2 L643.4 93.6 L643.8 80.7 L644.3 95.9 L644.8 97.7 L645.3 100.9 L645.8 97.5 L646.3 83 L646.8 101.2 L647.3 113.1 L647.7 88.2 L648.2 118.7 L648.7 82.7 L649.2 118.7 L649.7 101.5 L650.2 91.9 L650.7 99.3 L651.2 116.4 L651.7 76.2 L652.1 77.7 L652.6 124.8 L653.1 64 L653.6 124.3 L654.1 61.5 L654.6 102.3 L655.1 112 L655.6 71.1 L656 102.2 L656.5 103 L657 96.4 L657.5 115.9 L658 90.8 L658.5 86.5 L659 123.5 L659.5 147.5 L659.9 98.2 L660.4 81.4 L660.9 85.8 L661.4 107.3 L661.9 100.3 L662.4 88.2 L662.9 104.9 L663.4 95.8 L663.9 82.1 L664.3 81 L664.8 100.2 L665.3 96.6 L665.8 88.4 L666.3 124.8 L666.8 82.1 L667.3 117.1 L667.8 64 L668.2 107.6 L668.7 88.6 L669.2 102.5 L669.7 126 L670.2 71.9 L670.7 86.9 L671.2 110.3 L671.7 80.1 L672.2 94.7 L672.6 117.2 L673.1 73.3 L673.6 89.8 L674.1 96.3 L674.6 96.9 L675.1 85.4 L675.6 121.7 L676.1 82.1 L676.5 89.3 L677 115.9 L677.5 73.2 L678 113.1 L678.5 115 L679 88.1 L679.5 141.8 L680 83.6 L680.4 117.8 L680.9 71.5 L681.4 118.2 L681.9 80.5 L682.4 111.8 L682.9 92.6 L683.4 82.3 L683.9 100.2 L684.4 99.3 L684.8 111 L685.3 73.5 L685.8 97.9 L686.3 99.6 L686.8 91.2 L687.3 112.1 L687.8 101.5 L688.3 104.3 L688.7 87.4 L689.2 96.6 L689.7 55 L690.2 81.7 L690.7 93.1 L691.2 95.4 L691.7 136 L692.2 106.5 L692.7 92.4 L693.1 91.8 L693.6 98.8 L694.1 84.4 L694.6 118.5 L695.1 66.3 L695.6 121.3 L696.1 85.7 L696.6 119.4 L697 76.6 L697.5 89.2 L698 85.6 L698.5 90.5 L699 119.4 L699.5 94.8 L700 102.9 L700.5 105 L700.9 77 L701.4 103.3 L701.9 92.9 L702.4 91.4 L702.9 111 L703.4 100.6 L703.9 105.5 L704.4 84.9 L704.9 97.3 L705.3 88 L705.8 86.1 L706.3 119 L706.8 92.1 L707.3 96.2 L707.8 60.8 L708.3 94.3 L708.8 83.7 L709.2 87.9 L709.7 86.1 L710.2 100.6 L710.7 96.7 L711.2 81.7 L711.7 108.3 L712.2 85.6 L712.7 84 L713.2 107 L713.6 98.7 L714.1 95 L714.6 88.9 L715.1 93.4 L715.6 95.4 L716.1 89.2 L716.6 120.6 L717.1 95.2 L717.5 94.5 L718 109.2 L718.5 107.2 L719 106.4 L719.5 103 L720 95 L720.5 110.1 L721 86.1 L721.4 78.9 L721.9 106.7 L722.4 74.1 L722.9 103.4 L723.4 107.2 L723.9 94 L724.4 110.1 L724.9 79.1 L725.4 119.8 L725.8 66.9 L726.3 103.2 L726.8 119.2 L727.3 143.7 L727.8 86.7 L728.3 111.3 L728.8 75.6 L729.3 130 L729.7 75.9 L730.2 128.1 L730.7 73.8 L731.2 130.8 L731.7 113.4 L732.2 82.3 L732.7 73 L733.2 115.5 L733.7 75.6 L734.1 105 L734.6 96 L735.1 57 L735.6 78.6 L736.1 121.1 L736.6 76.2 L737.1 101.6 L737.6 112.1 L738 66.9 L738.5 85.1 L739 114.2 L739.5 64.3 L740 111.3 L740.5 90.7 L741 79.1 L741.5 101.7 L741.9 89.1 L742.4 79.7 L742.9 87.4 L743.4 88.8 L743.9 118.2 L744.4 105.7 L744.9 76.6 L745.4 118.1 L745.9 83.2 L746.3 116.7 L746.8 88.3 L747.3 116.9 L747.8 64.4 L748.3 125.4 L748.8 83.1 L749.3 105.1 L749.8 75.8 L750.2 124.9 L750.7 82.2 L751.2 105.9 L751.7 84.3 L752.2 95.9 L752.7 102.4 L753.2 89.9 L753.7 104.2 L754.2 86 L754.6 102.6 L755.1 101.5 L755.6 93.8 L756.1 92.5 L756.6 53.3 L757.1 116.6 L757.6 81.9 L758.1 84.1 L758.5 129.5 L759 102.4 L759.5 108.6 L760 91.4 L760.5 66.5 L761 105.8 L761.5 75.4 L762 109.4 L762.4 121.9 L762.9 113.7 L763.4 74 L763.9 104.8 L764.4 108.9 L764.9 75.1 L765.4 126.9 L765.9 65.9 L766.4 92.2 L766.8 108.1" />
<path stroke="#e6002f" stroke-opacity="0.85" d="M443.4 240.6 L443.7 221.2 L444.2 201 L444.7 181.2 L445.2 173.7 L445.7 154.6 L446.2 152.3 L446.6 140.7 L447.1 137.4 L447.6 132.9 L448.1 132.2 L448.6 126 L449.1 114.7 L449.6 128.2 L450.1 115.1 L450.6 122.4 L451 114.3 L451.5 114.6 L452 107.4 L452.5 113.9 L453 109.3 L453.5 112.7 L454 102.3 L454.5 122 L454.9 95.1 L455.4 92.9 L455.9 118.1 L456.4 95.1 L456.9 69.7 L457.4 131.3 L457.9 58 L458.4 102.8 L458.9 74.9 L459.3 85.3 L459.8 122.7 L460.3 79.9 L460.8 108.4 L461.3 101.6 L461.8 122.7 L462.3 72.4 L462.8 122.3 L463.2 81.7 L463.7 59 L464.2 69.2 L464.7 96 L465.2 113.4 L465.7 92.6 L466.2 85.6 L466.7 120.4 L467.1 90.4 L467.6 97.1 L468.1 118.1 L468.6 102.5 L469.1 116.4 L469.6 83 L470.1 110.9 L470.6 77.1 L471.1 104.7 L471.5 84.8 L472 103.4 L472.5 83 L473 104.5 L473.5 105.4 L474 76.2 L474.5 93.4 L475 67.7 L475.4 112.5 L475.9 95.9 L476.4 115.7 L476.9 131.6 L477.4 92.9 L477.9 91.5 L478.4 110.4 L478.9 123.6 L479.4 74.5 L479.8 114.9 L480.3 91.6 L480.8 104.2 L481.3 94 L481.8 91 L482.3 121.8 L482.8 86.4 L483.3 107.8 L483.7 75.3 L484.2 120.4 L484.7 64 L485.2 105 L485.7 70.2 L486.2 118.5 L486.7 74.3 L487.2 102.3 L487.6 113 L488.1 91.2 L488.6 104.6 L489.1 104.7 L489.6 102.1 L490.1 112.3 L490.6 94.3 L491.1 92.7 L491.6 108.2 L492 110.8 L492.5 74.9 L493 111.7 L493.5 88 L494 103.3 L494.5 99.7 L495 86.4 L495.5 108.1 L495.9 89.8 L496.4 118.5 L496.9 106.7 L497.4 96 L497.9 70.9 L498.4 106.4 L498.9 65.4 L499.4 105.5 L499.9 85.4 L500.3 109.2 L500.8 89.9 L501.3 75.5 L501.8 90.7 L502.3 107.2 L502.8 96.9 L503.3 78 L503.8 112 L504.2 76 L504.7 118.3 L505.2 57 L505.7 85.6 L506.2 90.3 L506.7 95.8 L507.2 94.4 L507.7 98.1 L508.1 95.5 L508.6 80.8 L509.1 88.5 L509.6 94.6 L510.1 113.6 L510.6 94.3 L511.1 93.1 L511.6 97 L512.1 113.7 L512.5 78.6 L513 70.4 L513.5 125.3 L514 80.7 L514.5 82.4 L515 108.6 L515.5 95.3 L516 94.3 L516.4 89.5 L516.9 134 L517.4 78.8 L517.9 130.1 L518.4 70.5 L518.9 104.1 L519.4 94.3 L519.9 91.9 L520.4 97.6 L520.8 77.8 L521.3 111.5 L521.8 89 L522.3 118.1 L522.8 100.1 L523.3 97.4 L523.8 116.2 L524.3 97.4 L524.7 113.1 L525.2 94.2 L525.7 95.6 L526.2 83.9 L526.7 128 L527.2 82.9 L527.7 91.3 L528.2 80.3 L528.6 85.4 L529.1 120.5 L529.6 90.8 L530.1 91.3 L530.6 86.1 L531.1 97.4 L531.6 92 L532.1 95 L532.6 106.9 L533 88.6 L533.5 89.1 L534 104.2 L534.5 76.6 L535 131.5 L535.5 76.7 L536 83.3 L536.5 91 L536.9 79.6 L537.4 102.5 L537.9 108.6 L538.4 96.7 L538.9 75.7 L539.4 130.7 L539.9 91.5 L540.4 121.2 L540.9 90.7 L541.3 104.5 L541.8 84.3 L542.3 113 L542.8 65 L543.3 103.1 L543.8 98.9 L544.3 107.9 L544.8 110.1 L545.2 87.5 L545.7 74.1 L546.2 109.3 L546.7 103.2 L547.2 93.4 L547.7 104.4 L548.2 104 L548.7 117.3 L549.1 86.3 L549.6 81.3 L550.1 87.2 L550.6 87.5 L551.1 97.6 L551.6 89.1 L552.1 86.2 L552.6 101.8 L553.1 89.5 L553.5 104.7 L554 76.7 L554.5 118 L555 76 L555.5 94.7 L556 85.6 L556.5 91.8 L557 104.3 L557.4 99.4 L557.9 99.8 L558.4 99.1 L558.9 109.4 L559.4 95.3 L559.9 104.9 L560.4 104.2 L560.9 87.1 L561.4 110.5 L561.8 85.5 L562.3 81.8 L562.8 80.7 L563.3 103.4 L563.8 78.7 L564.3 101.3 L564.8 64 L565.3 91.3 L565.7 83.5 L566.2 104.3 L566.7 95.1 L567.2 89.1 L567.7 99.8 L568.2 97.3 L568.7 86.1 L569.2 117.6 L569.7 111.8 L570.1 101.6 L570.6 108.6 L571.1 90.8 L571.6 110.2 L572.1 91.5 L572.6 125.2 L573.1 64 L573.6 107.8 L574 101.6 L574.5 89 L575 83.1 L575.5 91.3 L576 99.6 L576.5 86 L577 89.2 L577.5 115.6 L577.9 105.5 L578.4 99.2 L578.9 81.3 L579.4 83.7 L579.9 100.4 L580.4 73.8 L580.9 93.9 L581.4 98.1 L581.9 105 L582.3 100.2 L582.8 92.9 L583.3 78.9 L583.8 93.4 L584.3 114.8 L584.8 103.1 L585.3 81.7 L585.8 100.6 L586.2 106.4 L586.7 81.8 L587.2 84.9 L587.7 90.9 L588.2 97.1 L588.7 77.6 L589.2 110.4 L589.7 96.7 L590.2 48.4 L590.6 64.7 L591.1 83.3 L591.6 102.9 L592.1 84.6 L592.6 95.6 L593.1 83.7 L593.6 86.2 L594.1 91.8 L594.5 99.3 L595 101.2 L595.5 106.9 L596 125.4 L596.5 82.5 L597 113.8 L597.5 86.6 L598 102 L598.4 106.6 L598.9 97.3 L599.4 89.8 L599.9 96.8 L600.4 107.3 L600.9 100.4 L601.4 86.2 L601.9 97.7 L602.4 91 L602.8 100.6 L603.3 83.8 L603.8 100.8 L604.3 64 L604.8 120.3 L605.3 93.2 L605.8 75.4 L606.3 107.2 L606.7 100.7 L607.2 87.8 L607.7 130.9 L608.2 72.6 L608.7 107.4 L609.2 86.7 L609.7 111.3 L610.2 70.8 L610.7 104.4 L611.1 92.1 L611.6 93.2 L612.1 108.5 L612.6 91.5 L613.1 118.3 L613.6 99.6 L614.1 90.4 L614.6 97.3 L615 85.5 L615.5 110.1 L616 90.5 L616.5 108 L617 86.7 L617.5 90.4 L618 84.8 L618.5 94.2 L618.9 107.6 L619.4 87.6 L619.9 114.2 L620.4 112.6 L620.9 85.6 L621.4 100.3 L621.9 84.2 L622.4 91.2 L622.9 115 L623.3 98.8 L623.8 95 L624.3 95.9 L624.8 91 L625.3 116.2 L625.8 89.6 L626.3 91.1 L626.8 73.7 L627.2 124.2 L627.7 64 L628.2 117.8 L628.7 104.7 L629.2 74.4 L629.7 121.4 L630.2 99.3 L630.7 85.3 L631.2 88.1 L631.6 99.6 L632.1 104.3 L632.6 112.2 L633.1 87 L633.6 131.5 L634.1 97.9 L634.6 81.6 L635.1 95.6 L635.5 80.6 L636 98.9 L636.5 110.4 L637 83.2 L637.5 127.1 L638 71.9 L638.5 90.6 L639 112.7 L639.4 74.8 L639.9 106.9 L640.4 93.5 L640.9 124.2 L641.4 84.8 L641.9 90.9 L642.4 122.1 L642.9 90.2 L643.4 109.1 L643.8 111.9 L644.3 75 L644.8 107.1 L645.3 90.8 L645.8 86.4 L646.3 111.6 L646.8 65.7 L647.3 128 L647.7 96.2 L648.2 88.2 L648.7 95.6 L649.2 109.6 L649.7 101.8 L650.2 82.7 L650.7 99.3 L651.2 89.4 L651.7 88.3 L652.1 108.3 L652.6 73.5 L653.1 107.2 L653.6 81.2 L654.1 115.9 L654.6 76.4 L655.1 102.4 L655.6 64 L656 116.1 L656.5 65.8 L657 102.8 L657.5 71.9 L658 140 L658.5 85.2 L659 130.8 L659.5 95.5 L659.9 82.4 L660.4 97.2 L660.9 85.2 L661.4 104.9 L661.9 81.1 L662.4 108.1 L662.9 90.7 L663.4 82.5 L663.9 88.4 L664.3 105.5 L664.8 90.5 L665.3 95.6 L665.8 98.1 L666.3 96.3 L666.8 108.3 L667.3 82.3 L667.8 116.7 L668.2 98.4 L668.7 78 L669.2 80.8 L669.7 79.1 L670.2 99.7 L670.7 101.2 L671.2 83.6 L671.7 81.7 L672.2 101.6 L672.6 98.5 L673.1 116.8 L673.6 107.9 L674.1 67.3 L674.6 129.8 L675.1 88 L675.6 104 L676.1 88.8 L676.5 116.8 L677 78.1 L677.5 97.4 L678 94.5 L678.5 105.1 L679 96.5 L679.5 121.4 L680 75.2 L680.4 113.5 L680.9 62.7 L681.4 91.9 L681.9 91.7 L682.4 93.7 L682.9 89.2 L683.4 84.3 L683.9 109.2 L684.4 87.3 L684.8 97.4 L685.3 115 L685.8 72.5 L686.3 112.5 L686.8 84.9 L687.3 98.1 L687.8 106.3 L688.3 80.5 L688.7 91.4 L689.2 96.6 L689.7 131.5 L690.2 64 L690.7 116.9 L691.2 94.7 L691.7 105 L692.2 106.4 L692.7 96.2 L693.1 88.3 L693.6 115.1 L694.1 84.3 L694.6 110.3 L695.1 92.8 L695.6 103.1 L696.1 89 L696.6 86.7 L697 101.4 L697.5 82 L698 83.9 L698.5 121.8 L699 73.3 L699.5 111.9 L700 91.1 L700.5 86.1 L700.9 104.6 L701.4 100.6 L701.9 77.5 L702.4 91.8 L702.9 93 L703.4 64 L703.9 127.1 L704.4 102.3 L704.9 96 L705.3 111.3 L705.8 83.7 L706.3 110.2 L706.8 97.1 L707.3 95.6 L707.8 107.6 L708.3 115.9 L708.8 95.9 L709.2 87 L709.7 97.6 L710.2 83.1 L710.7 80.4 L711.2 92.4 L711.7 98.8 L712.2 104.8 L712.7 85.7 L713.2 80.1 L713.6 85.3 L714.1 89.2 L714.6 110.3 L715.1 81.4 L715.6 94.2 L716.1 80.9 L716.6 120.5 L717.1 93.2 L717.5 95.8 L718 94.7 L718.5 104.9 L719 85.1 L719.5 105.5 L720 76.8 L720.5 112.3 L721 85.4 L721.4 129.2 L721.9 76.9 L722.4 114.5 L722.9 77.5 L723.4 107.7 L723.9 74.1 L724.4 114.2 L724.9 106.1 L725.4 88 L725.8 92.5 L726.3 107.8 L726.8 107.5 L727.3 80.5 L727.8 90 L728.3 89.5 L728.8 98.3 L729.3 95.1 L729.7 75.1 L730.2 96.1 L730.7 108.2 L731.2 104.3 L731.7 83.7 L732.2 92.6 L732.7 106 L733.2 101.2 L733.7 80.8 L734.1 107.9 L734.6 79.1 L735.1 119.2 L735.6 97.6 L736.1 118 L736.6 85.6 L737.1 106.7 L737.6 113 L738 85.6 L738.5 108.4 L739 92.9 L739.5 79.2 L740 91.7 L740.5 91.8 L741 102.7 L741.5 108.6 L741.9 98.6 L742.4 99.9 L742.9 77.6 L743.4 117.6 L743.9 92.6 L744.4 98 L744.9 90 L745.4 84.9 L745.9 84.2 L746.3 104.1 L746.8 66.7 L747.3 102 L747.8 103.6 L748.3 105.3 L748.8 97.1 L749.3 99 L749.8 84.3 L750.2 112.9 L750.7 95.3 L751.2 134 L751.7 86.8 L752.2 120.1 L752.7 76.9 L753.2 116.3 L753.7 89 L754.2 94 L754.6 93.3 L755.1 64 L755.6 125.9 L756.1 108.9 L756.6 107.2 L757.1 79.7 L757.6 118.6 L758.1 71.4 L758.5 111.4 L759 78.7 L759.5 125.2 L760 67.9 L760.5 95 L761 109.1 L761.5 72.2 L762 73.3 L762.4 107.6 L762.9 102.8 L763.4 100.7 L763.9 97.7 L764.4 82 L764.9 79 L765.4 110.2 L765.9 92.1 L766.4 116.6 L766.8 92.9" />
<path stroke="#262b2b" stroke-opacity="0.8" d="M446.2 152.1 L446.6 141.1 L447.1 146.4 L447.6 123.9 L448.1 136 L448.6 119 L449.1 127.5 M452 105.5 L452.5 120 L453 116.9 L453.5 98.7 L454 117.5 L454.5 120.1 L454.9 43.1 M457.9 108 L458.4 106.6 L458.9 91.9 L459.3 94.3 L459.8 106 L460.3 88.6 L460.8 90.4 M463.7 122 L464.2 94.1 L464.7 110.1 L465.2 113.7 L465.7 87.3 L466.2 95.1 L466.7 107.7 M469.6 120.2 L470.1 76.8 L470.6 98.6 L471.1 118.7 L471.5 80.8 L472 107.6 L472.5 80.6 M475.4 104.6 L475.9 85.7 L476.4 108.4 L476.9 75.9 L477.4 98.5 L477.9 97.5 L478.4 87.3 M481.3 93.9 L481.8 110.6 L482.3 72.5 L482.8 124.6 L483.3 74.5 L483.7 89.9 L484.2 120.3 M487.2 129.5 L487.6 87 L488.1 91.5 L488.6 77.8 L489.1 99.8 L489.6 104.1 L490.1 88.3 M493 97 L493.5 98.7 L494 111.8 L494.5 94.7 L495 81 L495.5 106.2 L495.9 110 M498.9 115.7 L499.4 69 L499.9 76 L500.3 117 L500.8 94.2 L501.3 89.3 L501.8 110.5 M504.7 81.3 L505.2 109.1 L505.7 85.4 L506.2 129.6 L506.7 98.5 L507.2 84.5 L507.7 109.7 M510.6 103.8 L511.1 101.5 L511.6 103.1 L512.1 99.1 L512.5 109.5 L513 96.6 L513.5 97.1 M516.4 80.9 L516.9 96.2 L517.4 104.6 L517.9 101.4 L518.4 67.1 L518.9 100.7 L519.4 69.8 M522.3 93 L522.8 95.1 L523.3 94.4 L523.8 116.7 L524.3 88 L524.7 110 L525.2 87.5 M528.2 96.5 L528.6 101.8 L529.1 95.5 L529.6 103 L530.1 87.6 L530.6 100.2 L531.1 86.5 M534 102 L534.5 89.4 L535 107.1 L535.5 104.7 L536 103 L536.5 75.5 L536.9 105.9 M539.9 71.1 L540.4 101.5 L540.9 112.5 L541.3 84 L541.8 89.1 L542.3 93.5 L542.8 94 M545.7 113.8 L546.2 76.9 L546.7 112.4 L547.2 102.3 L547.7 88.3 L548.2 77.9 L548.7 92.7 M551.6 126 L552.1 78.7 L552.6 50.6 L553.1 94.2 L553.5 116.5 L554 105.9 L554.5 103.7 M557.4 115 L557.9 84.8 L558.4 96 L558.9 101.8 L559.4 89.3 L559.9 92 L560.4 109.5 M563.3 80.6 L563.8 109.4 L564.3 80.3 L564.8 91.7 L565.3 89 L565.7 86 L566.2 106.3 M569.2 85.7 L569.7 96.5 L570.1 103.4 L570.6 72.3 L571.1 124.5 L571.6 75.4 L572.1 106.7 M575 108.8 L575.5 114.8 L576 95.9 L576.5 92.8 L577 89.5 L577.5 97.3 L577.9 95 M580.9 92.8 L581.4 111.7 L581.9 97.7 L582.3 75.3 L582.8 102.2 L583.3 96.8 L583.8 91.3 M586.7 65.8 L587.2 118 L587.7 106 L588.2 94.2 L588.7 102 L589.2 91.2 L589.7 113.6 M592.6 85.8 L593.1 125.1 L593.6 96.8 L594.1 89.8 L594.5 99.8 L595 72.8 L595.5 117.1 M598.4 96.2 L598.9 85 L599.4 100 L599.9 104.1 L600.4 89.4 L600.9 64.9 L601.4 95.1 M604.3 65.1 L604.8 134 L605.3 82.8 L605.8 100.4 L606.3 36.3 L606.7 92.5 L607.2 81 M610.2 107.8 L610.7 97.8 L611.1 103.7 L611.6 129 L612.1 66.3 L612.6 103.6 L613.1 95.2 M616 96.4 L616.5 74.9 L617 82.6 L617.5 84.2 L618 117.4 L618.5 114.4 L618.9 79.5 M621.9 78.4 L622.4 110.8 L622.9 84.2 L623.3 96.1 L623.8 97.7 L624.3 91.2 L624.8 98.8 M627.7 109.9 L628.2 76.2 L628.7 100.9 L629.2 101.2 L629.7 103.5 L630.2 90.9 L630.7 95.4 M633.6 131.5 L634.1 69.3 L634.6 116.6 L635.1 80.2 L635.5 110.6 L636 84.1 L636.5 81.6 M639.4 105.1 L639.9 102.3 L640.4 93.6 L640.9 100.4 L641.4 84.1 L641.9 102.7 L642.4 99.8 M645.3 100.9 L645.8 97.5 L646.3 83 L646.8 101.2 L647.3 113.1 L647.7 88.2 L648.2 118.7 M651.2 116.4 L651.7 76.2 L652.1 77.7 L652.6 124.8 L653.1 64 L653.6 124.3 L654.1 61.5 M657 96.4 L657.5 115.9 L658 90.8 L658.5 86.5 L659 123.5 L659.5 147.5 L659.9 98.2 M662.9 104.9 L663.4 95.8 L663.9 82.1 L664.3 81 L664.8 100.2 L665.3 96.6 L665.8 88.4 M668.7 88.6 L669.2 102.5 L669.7 126 L670.2 71.9 L670.7 86.9 L671.2 110.3 L671.7 80.1 M674.6 96.9 L675.1 85.4 L675.6 121.7 L676.1 82.1 L676.5 89.3 L677 115.9 L677.5 73.2 M680.4 117.8 L680.9 71.5 L681.4 118.2 L681.9 80.5 L682.4 111.8 L682.9 92.6 L683.4 82.3 M686.3 99.6 L686.8 91.2 L687.3 112.1 L687.8 101.5 L688.3 104.3 L688.7 87.4 L689.2 96.6 M692.2 106.5 L692.7 92.4 L693.1 91.8 L693.6 98.8 L694.1 84.4 L694.6 118.5 L695.1 66.3 M698 85.6 L698.5 90.5 L699 119.4 L699.5 94.8 L700 102.9 L700.5 105 L700.9 77 M703.9 105.5 L704.4 84.9 L704.9 97.3 L705.3 88 L705.8 86.1 L706.3 119 L706.8 92.1 M709.7 86.1 L710.2 100.6 L710.7 96.7 L711.2 81.7 L711.7 108.3 L712.2 85.6 L712.7 84 M715.6 95.4 L716.1 89.2 L716.6 120.6 L717.1 95.2 L717.5 94.5 L718 109.2 L718.5 107.2 M721.4 78.9 L721.9 106.7 L722.4 74.1 L722.9 103.4 L723.4 107.2 L723.9 94 L724.4 110.1 M727.3 143.7 L727.8 86.7 L728.3 111.3 L728.8 75.6 L729.3 130 L729.7 75.9 L730.2 128.1 M733.2 115.5 L733.7 75.6 L734.1 105 L734.6 96 L735.1 57 L735.6 78.6 L736.1 121.1 M739 114.2 L739.5 64.3 L740 111.3 L740.5 90.7 L741 79.1 L741.5 101.7 L741.9 89.1 M744.9 76.6 L745.4 118.1 L745.9 83.2 L746.3 116.7 L746.8 88.3 L747.3 116.9 L747.8 64.4 M750.7 82.2 L751.2 105.9 L751.7 84.3 L752.2 95.9 L752.7 102.4 L753.2 89.9 L753.7 104.2 M756.6 53.3 L757.1 116.6 L757.6 81.9 L758.1 84.1 L758.5 129.5 L759 102.4 L759.5 108.6 M762.4 121.9 L762.9 113.7 L763.4 74 L763.9 104.8 L764.4 108.9 L764.9 75.1 L765.4 126.9" />
</g>
<rect x="588.2" y="207.8" width="129.2" height="55.6" fill="#fff" stroke="#3c4444" stroke-width="1"/>
<g stroke-width="0.9" fill="none">
<path stroke="#3a4642" d="M590.4 217.5H623.6"/>
<path stroke="#b0458c" d="M590.4 235.6H623.6"/>
<path stroke="#3c48c8" d="M590.4 252.6H623.6"/>
</g>
<g font-size="14.2" fill="#111" stroke="#111" stroke-width="0.3">
<text x="627.6" y="222.4" lengthAdjust="spacingAndGlyphs" textLength="67.6">Wild-Type</text>
<text x="627.6" y="240.2" lengthAdjust="spacingAndGlyphs" textLength="87.6">MtDNA GyrA</text>
<text x="627.6" y="257.7" lengthAdjust="spacingAndGlyphs" textLength="59.5">Complex</text>
</g>
<path d="M771 10V319.8" stroke="#8f9a9a" stroke-width="1.4" fill="none"/>
</svg>
</body></html>
